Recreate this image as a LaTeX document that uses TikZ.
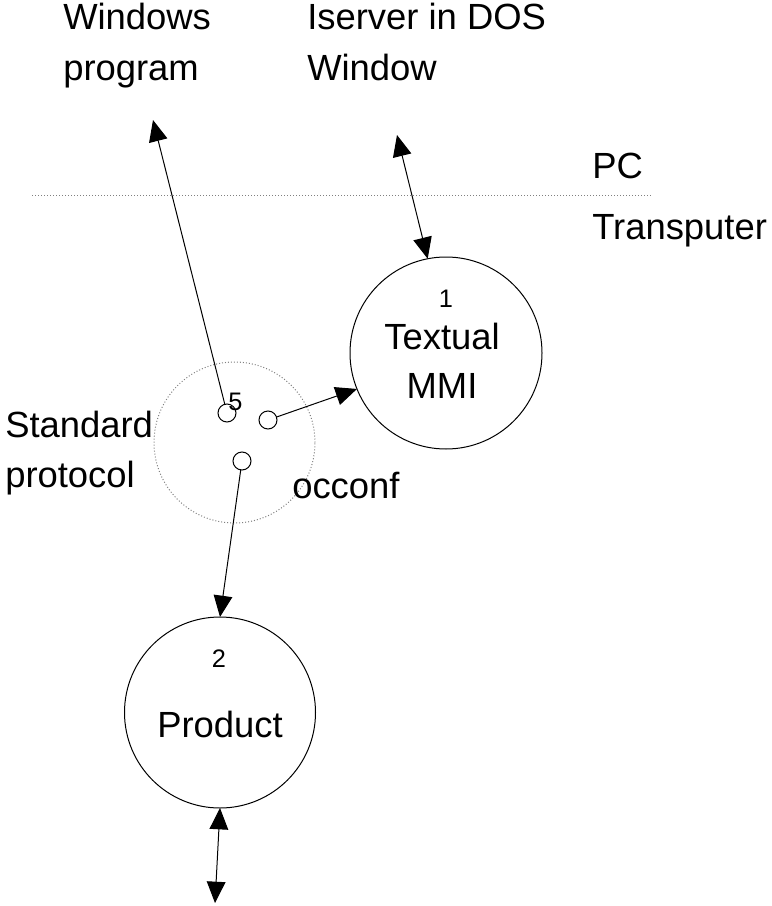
\documentclass[tikz,border=0pt]{standalone}
\usepackage{fontspec}
\setmainfont{Liberation Sans}
\usetikzlibrary{arrows.meta}
\begin{document}
\begin{tikzpicture}[x=0.75pt,y=-0.75pt,
  conn/.style={line width=0.75pt},
  headend/.style={-{Triangle[length=16pt,width=14pt]}},
  headboth/.style={{Triangle[length=16pt,width=14pt]}-{Triangle[length=16pt,width=14pt]}},
  bigcirc/.style={circle,draw,line width=0.75pt,inner sep=0pt,outer sep=0pt},
  dotcirc/.style={circle,draw=gray,line width=0.75pt,dash pattern=on 0.75pt off 1.5pt,inner sep=0pt,outer sep=0pt},
  port/.style={circle,draw,line width=0.75pt,minimum size=13.5pt,inner sep=0pt,outer sep=0pt},
  lbl/.style={font=\fontsize{27.3}{32}\selectfont,inner sep=0pt},
  num/.style={font=\fontsize{19}{22}\selectfont,inner sep=0pt}]
\useasboundingbox (0,0) rectangle (771,906);

% separator line
\coordinate (dl) at (32,195);
\coordinate (dr) at (653,195);
\draw[gray,line width=0.75pt,dash pattern=on 0.75pt off 1.5pt] (dl) -- (dr);

% circles
\node[bigcirc,minimum size=144pt] (mmi) at (446,353) {};
\node[bigcirc,minimum size=143.25pt] (prod) at (220,712.5) {};
\node[dotcirc,minimum size=120.75pt] (std) at (234.5,442.5) {};
\node[port] (c1) at (227,413) {};
\node[port] (c2) at (268,420) {};
\node[port] (c3) at (242,461) {};

% free ends
\coordinate (wtip) at (153,120);
\coordinate (itip) at (397,135);
\coordinate (btip) at (215,903);

% connectors
\draw[conn,headend] (c1) -- (wtip);
\draw[conn,headboth] (itip) -- (mmi.101.8);
\draw[conn,headend] (c2) -- (mmi.202);
\draw[conn,headend] (c3) -- (prod.north);
\draw[conn,headboth] (prod.south) -- (btip);

% labels
\node[lbl,anchor=base west] (wl1) at (63,30) {Windows};
\node[lbl,anchor=base west] (wl2) at (63,80) {program};
\node[lbl,anchor=base west] (il1) at (307,30) {Iserver in DOS};
\node[lbl,anchor=base west] (il2) at (307,80) {Window};
\node[lbl,anchor=base west] (pc) at (592,178) {PC};
\node[lbl,anchor=base west] (tr) at (592,239) {Transputer};
\node[lbl,anchor=base west] (sp1) at (5,437) {Standard};
\node[lbl,anchor=base west] (sp2) at (5,487) {protocol};
\node[lbl,anchor=base west] (occ) at (292,498) {occonf};
\node[num,anchor=base] (n1) at (446,307) {1};
\node[lbl,anchor=base] (mt1) at (442,349) {Textual};
\node[lbl,anchor=base] (mt2) at (442,398) {MMI};
\node[num,anchor=base] (n2) at (219,667) {2};
\node[lbl,anchor=base] (pt) at (220,737) {Product};
\node[num,anchor=base west] (n5) at (228,410) {5};
\end{tikzpicture}
\end{document}
